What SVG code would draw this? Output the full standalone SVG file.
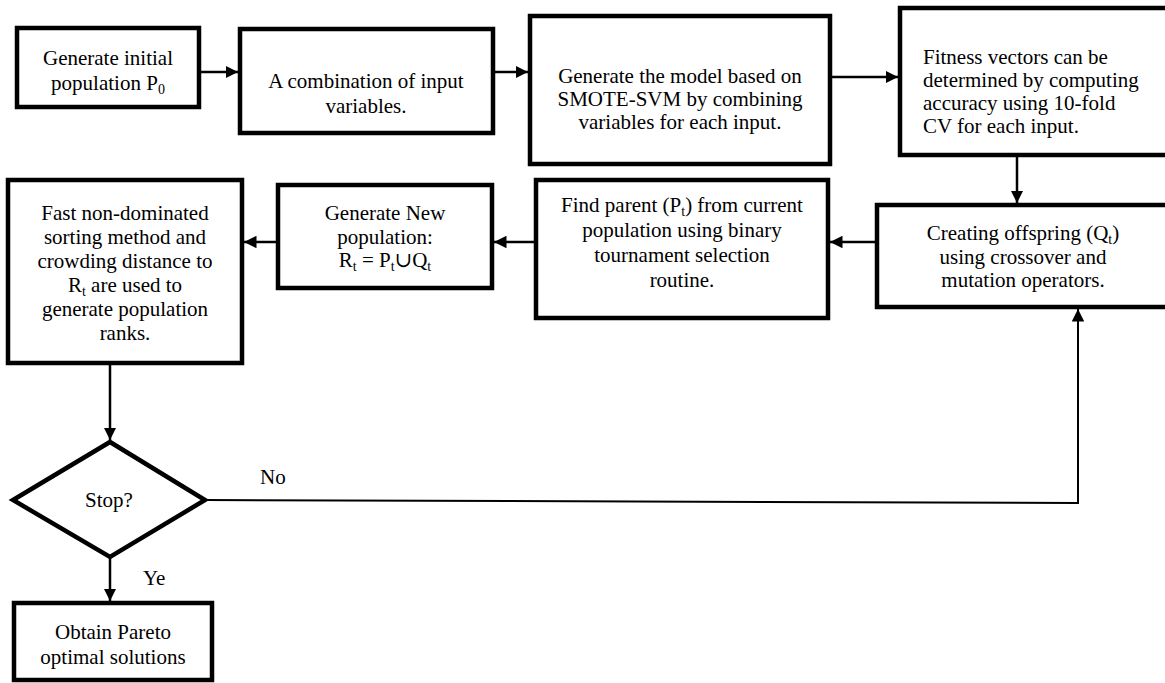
<svg xmlns="http://www.w3.org/2000/svg" width="1165" height="683" viewBox="0 0 1165 683">
<style>
.box{fill:#fff;stroke:#000;stroke-width:4.5}
.t{font-family:"Liberation Serif","Times New Roman","DejaVu Serif",serif;font-size:21px;fill:#000;text-anchor:middle}
.l{text-anchor:start}
.c{fill:none;stroke:#000;stroke-width:2.5}
.thin{stroke-width:2}
.s{font-size:14px}
</style>
<defs>
<marker id="ah" viewBox="0 0 10 10" refX="10" refY="5" markerWidth="5" markerHeight="5" orient="auto" markerUnits="strokeWidth">
<path d="M0,0 L10,5 L0,10 Z" fill="#000"/>
</marker>
<marker id="ah2" viewBox="0 0 10 10" refX="10" refY="5" markerWidth="6.25" markerHeight="6.25" orient="auto" markerUnits="strokeWidth">
<path d="M0,0 L10,5 L0,10 Z" fill="#000"/>
</marker>
</defs>
<rect width="1165" height="683" fill="#fff"/>
<g id="connectors">
<line class="c" x1="199" y1="72" x2="238" y2="72" marker-end="url(#ah)"/>
<line class="c" x1="493" y1="72" x2="528" y2="72" marker-end="url(#ah)"/>
<line class="c" x1="830" y1="77" x2="898" y2="77" marker-end="url(#ah)"/>
<line class="c" x1="1017" y1="155" x2="1017" y2="203" marker-end="url(#ah)"/>
<line class="c" x1="877" y1="242" x2="830" y2="242" marker-end="url(#ah)"/>
<line class="c" x1="536" y1="242" x2="494" y2="242" marker-end="url(#ah)"/>
<line class="c" x1="278" y1="242" x2="244" y2="242" marker-end="url(#ah)"/>
<line class="c" x1="110" y1="363" x2="110" y2="440" marker-end="url(#ah)"/>
<line class="c" x1="110" y1="557" x2="110" y2="601" marker-end="url(#ah)"/>
<polyline class="c thin" points="205,500 1078,503 1078,309" marker-end="url(#ah2)"/>
<text class="t l" x="260" y="484">No</text>
<text class="t l" x="143" y="585">Ye</text>
</g>
<g id="n1">
<rect class="box" x="17" y="28" width="182" height="79"/>
<text class="t" x="108" y="65">Generate initial</text>
<text class="t" x="108" y="90">population P<tspan class="s" dy="4">0</tspan></text>
</g>
<g id="n2">
<rect class="box" x="240" y="29" width="253" height="104"/>
<text class="t" x="366" y="88">A combination of input</text>
<text class="t" x="366" y="113">variables.</text>
</g>
<g id="n3">
<rect class="box" x="530" y="16" width="300" height="148"/>
<text class="t" x="680" y="83">Generate the model based on</text>
<text class="t" x="680" y="106">SMOTE-SVM by combining</text>
<text class="t" x="680" y="129">variables for each input.</text>
</g>
<g id="n4">
<rect class="box" x="900" y="8" width="275" height="147"/>
<text class="t l" x="923" y="64">Fitness vectors can be</text>
<text class="t l" x="923" y="87">determined by computing</text>
<text class="t l" x="923" y="110">accuracy using 10-fold</text>
<text class="t l" x="923" y="133">CV for each input.</text>
</g>
<g id="n5">
<rect class="box" x="8" y="180" width="234" height="183"/>
<text class="t" x="125" y="220">Fast non-dominated</text>
<text class="t" x="125" y="244">sorting method and</text>
<text class="t" x="125" y="268">crowding distance to</text>
<text class="t" x="125" y="292">R<tspan class="s" dy="4">t</tspan><tspan dy="-4"> are used to</tspan></text>
<text class="t" x="125" y="316">generate population</text>
<text class="t" x="125" y="340">ranks.</text>
</g>
<g id="n6">
<rect class="box" x="278" y="185" width="214" height="103"/>
<text class="t" x="385" y="220">Generate New</text>
<text class="t" x="385" y="244">population:</text>
<text class="t" x="385" y="267">R<tspan class="s" dy="4">t</tspan><tspan dy="-4"> = P</tspan><tspan class="s" dy="4">t</tspan><tspan dy="-4">∪Q</tspan><tspan class="s" dy="4">t</tspan></text>
</g>
<g id="n7">
<rect class="box" x="536" y="180" width="292" height="138"/>
<text class="t" x="682" y="212">Find parent (P<tspan class="s" dy="4">t</tspan><tspan dy="-4">) from current</tspan></text>
<text class="t" x="682" y="237">population using binary</text>
<text class="t" x="682" y="262">tournament selection</text>
<text class="t" x="682" y="287">routine.</text>
</g>
<g id="n8">
<rect class="box" x="877" y="205" width="291" height="102"/>
<text class="t" x="1023" y="240">Creating offspring (Q<tspan class="s" dy="4">t</tspan><tspan dy="-4">)</tspan></text>
<text class="t" x="1023" y="264">using crossover and</text>
<text class="t" x="1023" y="287">mutation operators.</text>
</g>
<g id="n9">
<polygon class="box" points="13,500 110,442 205,500 110,557"/>
<text class="t" x="109" y="507">Stop?</text>
</g>
<g id="n10">
<rect class="box" x="14" y="603" width="198" height="77"/>
<text class="t" x="113" y="639">Obtain Pareto</text>
<text class="t" x="113" y="664">optimal solutions</text>
</g>
</svg>
